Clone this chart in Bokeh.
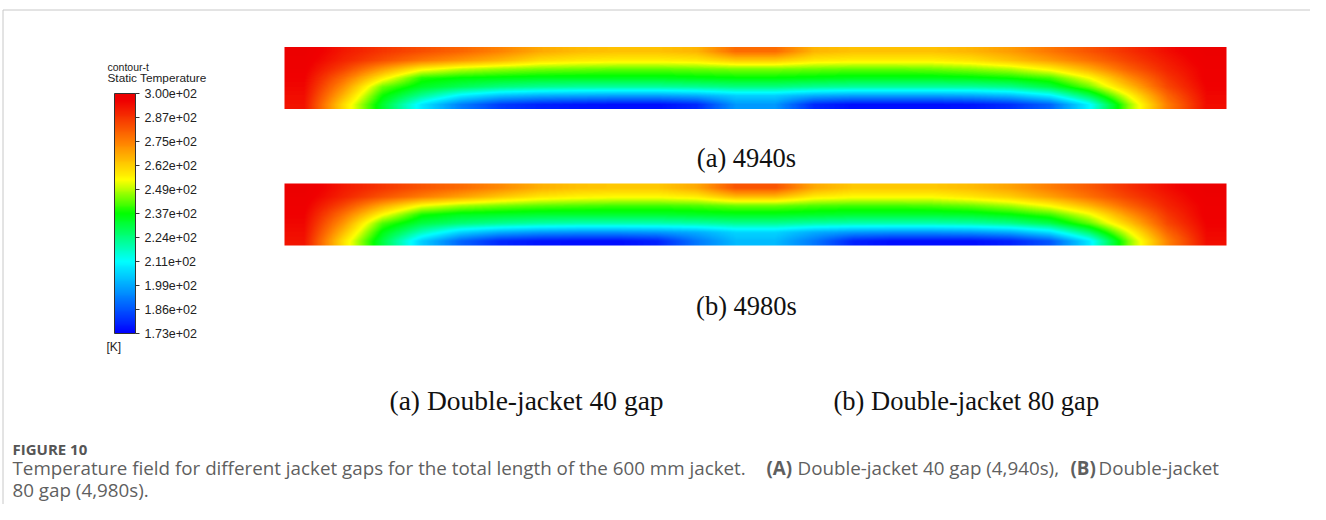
import numpy as np
from bokeh.plotting import figure
from bokeh.models import (Range1d, LinearColorMapper, ColorBar, FixedTicker, Label,
                          CustomJSTickFormatter, AllLabels)
from bokeh.embed import file_html
from bokeh.resources import INLINE

# ---------------- data ----------------
T_MIN, T_MAX = 173.0, 300.0
cb_ticks = [300.0, 287.4, 274.7, 262.0, 249.3, 236.6, 223.9, 211.2, 198.5, 185.7, 173.0]
cb_labels = ["3.00e+02", "2.87e+02", "2.75e+02", "2.62e+02", "2.49e+02", "2.37e+02",
             "2.24e+02", "2.11e+02", "1.99e+02", "1.86e+02", "1.73e+02"]

# temperature fields [K], rows top -> bottom, 24 columns left -> right
field_4940 = [
    [299, 292, 287, 283, 279, 274, 268, 265, 264, 264, 266, 278, 278, 266, 264, 264, 264, 266, 270, 276, 282, 288, 294, 299],
    [298, 290, 283, 276, 271, 266, 260, 258, 257, 257, 258, 263, 263, 258, 257, 257, 257, 259, 264, 270, 277, 285, 292, 298],
    [297, 285, 270, 256, 250, 247, 245, 244, 243, 243, 244, 245, 245, 244, 243, 243, 244, 246, 249, 256, 267, 280, 290, 297],
    [296, 278, 257, 239, 236, 235, 234, 234, 234, 234, 235, 236, 236, 235, 234, 234, 234, 235, 237, 241, 254, 272, 287, 297],
    [295, 272, 244, 233, 228, 224, 222, 221, 221, 221, 222, 224, 224, 222, 221, 221, 221, 221, 223, 230, 244, 264, 284, 296],
    [294, 266, 237, 222, 209, 202, 199, 198, 197, 197, 199, 204, 204, 199, 197, 197, 197, 198, 201, 209, 228, 254, 279, 295],
    [293, 260, 232, 208, 192, 182, 178, 176, 175, 175, 179, 196, 196, 179, 175, 175, 175, 176, 180, 188, 210, 246, 275, 294],
]
field_4980 = [
    [299, 292, 287, 282, 278, 273, 267, 264, 263, 263, 268, 282, 282, 268, 263, 263, 263, 265, 269, 275, 281, 288, 294, 299],
    [298, 290, 282, 275, 269, 263, 258, 256, 255, 255, 257, 265, 265, 257, 255, 255, 255, 258, 262, 269, 277, 285, 292, 298],
    [297, 284, 268, 254, 248, 245, 243, 242, 241, 241, 242, 244, 244, 242, 241, 241, 242, 244, 248, 255, 266, 279, 290, 297],
    [296, 277, 255, 238, 234, 233, 232, 232, 232, 232, 233, 234, 234, 233, 232, 232, 232, 233, 236, 241, 253, 271, 287, 297],
    [295, 271, 242, 230, 225, 222, 220, 219, 219, 219, 220, 222, 222, 220, 219, 219, 219, 220, 223, 229, 243, 263, 284, 296],
    [294, 265, 235, 218, 205, 199, 196, 195, 195, 196, 199, 205, 205, 199, 196, 195, 195, 196, 199, 207, 226, 253, 279, 295],
    [293, 259, 230, 204, 188, 179, 176, 175, 175, 178, 191, 201, 201, 191, 178, 175, 175, 175, 178, 186, 208, 245, 274, 294],
]
strip_captions = ["(a) 4940s", "(b) 4980s"]
panel_captions = ["(a) Double-jacket 40 gap", "(b) Double-jacket 80 gap"]

# ---------------- layout ----------------
W, H = 1310, 504


def py(y):
    return H - y


def render_grid(field, out_w, out_h):
    """Resample the read grid to screen pixels for a smooth display (bilinear)."""
    a = np.asarray(field, dtype=float)
    ny, nx = a.shape
    xc = (np.arange(nx) + 0.5) / nx
    yc = (np.arange(ny) + 0.5) / ny
    xo = (np.arange(out_w) + 0.5) / out_w
    yo = (np.arange(out_h) + 0.5) / out_h
    tmp = np.array([np.interp(xo, xc, row) for row in a])
    return np.array([np.interp(yo, yc, col) for col in tmp.T]).T


# Fluent-like rainbow palette
stops = [(0.0, (0, 0, 255)), (0.30, (0, 255, 255)), (0.40, (0, 255, 128)), (0.50, (0, 255, 0)),
         (0.64, (255, 255, 0)), (0.80, (255, 128, 0)), (0.97, (240, 0, 0)), (1.0, (235, 0, 0))]
st_t = [s[0] for s in stops]
palette = []
for i in range(256):
    t = i / 255
    rgb = [int(round(np.interp(t, st_t, [s[1][k] for s in stops]))) for k in range(3)]
    palette.append("#%02x%02x%02x" % tuple(rgb))
mapper = LinearColorMapper(palette=palette, low=T_MIN, high=T_MAX)

p = figure(width=W, height=H, x_range=Range1d(0, W), y_range=Range1d(0, H),
           output_backend="svg", toolbar_location=None, min_border=0,
           x_axis_type=None, y_axis_type=None)
p.grid.visible = False
p.outline_line_color = None
p.background_fill_color = "white"

# frame lines
p.line(x=[2.5, W], y=[py(9.5), py(9.5)], line_color="#c8c8c8", line_width=1)
p.line(x=[2.5, 2.5], y=[0, py(9.5)], line_color="#c8c8c8", line_width=1)

# strips
strip_left, strip_w = 284, 942
for field, top, bottom in [(field_4940, 46.5, 108.5), (field_4980, 183, 245)]:
    img = render_grid(field, strip_w, int(round(bottom - top)))[::-1]
    p.image(image=[img], x=strip_left, y=py(bottom), dw=strip_w, dh=bottom - top,
            color_mapper=mapper)

# colour bar
fmt = CustomJSTickFormatter(args=dict(tv=cb_ticks, lb=cb_labels), code="""
    let best = 0, bd = 1e9;
    for (let i = 0; i < tv.length; i++) {
        const d = Math.abs(tv[i] - tick);
        if (d < bd) { bd = d; best = i; }
    }
    return lb[best];
""")
cb_kwargs = dict(color_mapper=mapper, location=(114, py(333)), width=21, height=240,
                 padding=0, margin=0, border_line_color=None, background_fill_color=None,
                 bar_line_color="#333333", major_tick_line_color="#333333",
                 major_tick_out=4, major_tick_in=0, minor_tick_line_color=None,
                 ticker=FixedTicker(ticks=cb_ticks), formatter=fmt,
                 major_label_text_font="Liberation Sans", major_label_text_font_size="12.5px",
                 major_label_text_color="#222222", label_standoff=5)
if "major_label_policy" in ColorBar.properties():
    cb_kwargs["major_label_policy"] = AllLabels()
p.add_layout(ColorBar(**cb_kwargs), "center")

p.add_layout(Label(x=107, y=py(66), text="contour-t", text_font="Liberation Sans",
                   text_font_size="10.5px", text_color="#222222", text_baseline="middle"))
p.add_layout(Label(x=107, y=py(77), text="Static Temperature", text_font="Liberation Sans",
                   text_font_size="11.8px", text_color="#222222", text_baseline="middle"))
p.add_layout(Label(x=106, y=py(346), text="[K]", text_font="Liberation Sans",
                   text_font_size="12px", text_color="#222222", text_baseline="middle"))

for txt, y in zip(strip_captions, [157, 305]):
    p.add_layout(Label(x=746, y=py(y), text=txt, text_font="Liberation Serif",
                       text_font_size="26.5px", text_color="#111111",
                       text_align="center", text_baseline="middle"))
for txt, x, fs in zip(panel_captions, [389, 833], ["27.5px", "26.5px"]):
    p.add_layout(Label(x=x, y=py(400), text=txt, text_font="Liberation Serif",
                       text_font_size=fs, text_color="#111111",
                       text_align="left", text_baseline="middle"))

# figure caption
cap_color = "#5f5f5f"
cap_font = "Open Sans"
p.add_layout(Label(x=12, y=py(448), text="FIGURE 10", text_font=cap_font,
                   text_font_size="15px", text_color="#555555", text_font_style="bold",
                   text_baseline="middle"))
line1 = [
    (12, "Temperature field for different jacket gaps for the total length of the 600 mm jacket.", "normal"),
    (766, "(A)", "bold"),
    (797, "Double-jacket 40 gap (4,940s),", "normal"),
    (1070, "(B)", "bold"),
    (1098, "Double-jacket", "normal"),
]
for x, txt, st in line1:
    p.add_layout(Label(x=x, y=py(467), text=txt, text_font=cap_font,
                       text_font_size="18.8px", text_color=cap_color, text_font_style=st,
                       text_baseline="middle"))
p.add_layout(Label(x=12, y=py(489), text="80 gap (4,980s).", text_font=cap_font,
                   text_font_size="18.8px", text_color=cap_color, text_baseline="middle"))

open("out.html", "w").write(file_html(p, INLINE))
